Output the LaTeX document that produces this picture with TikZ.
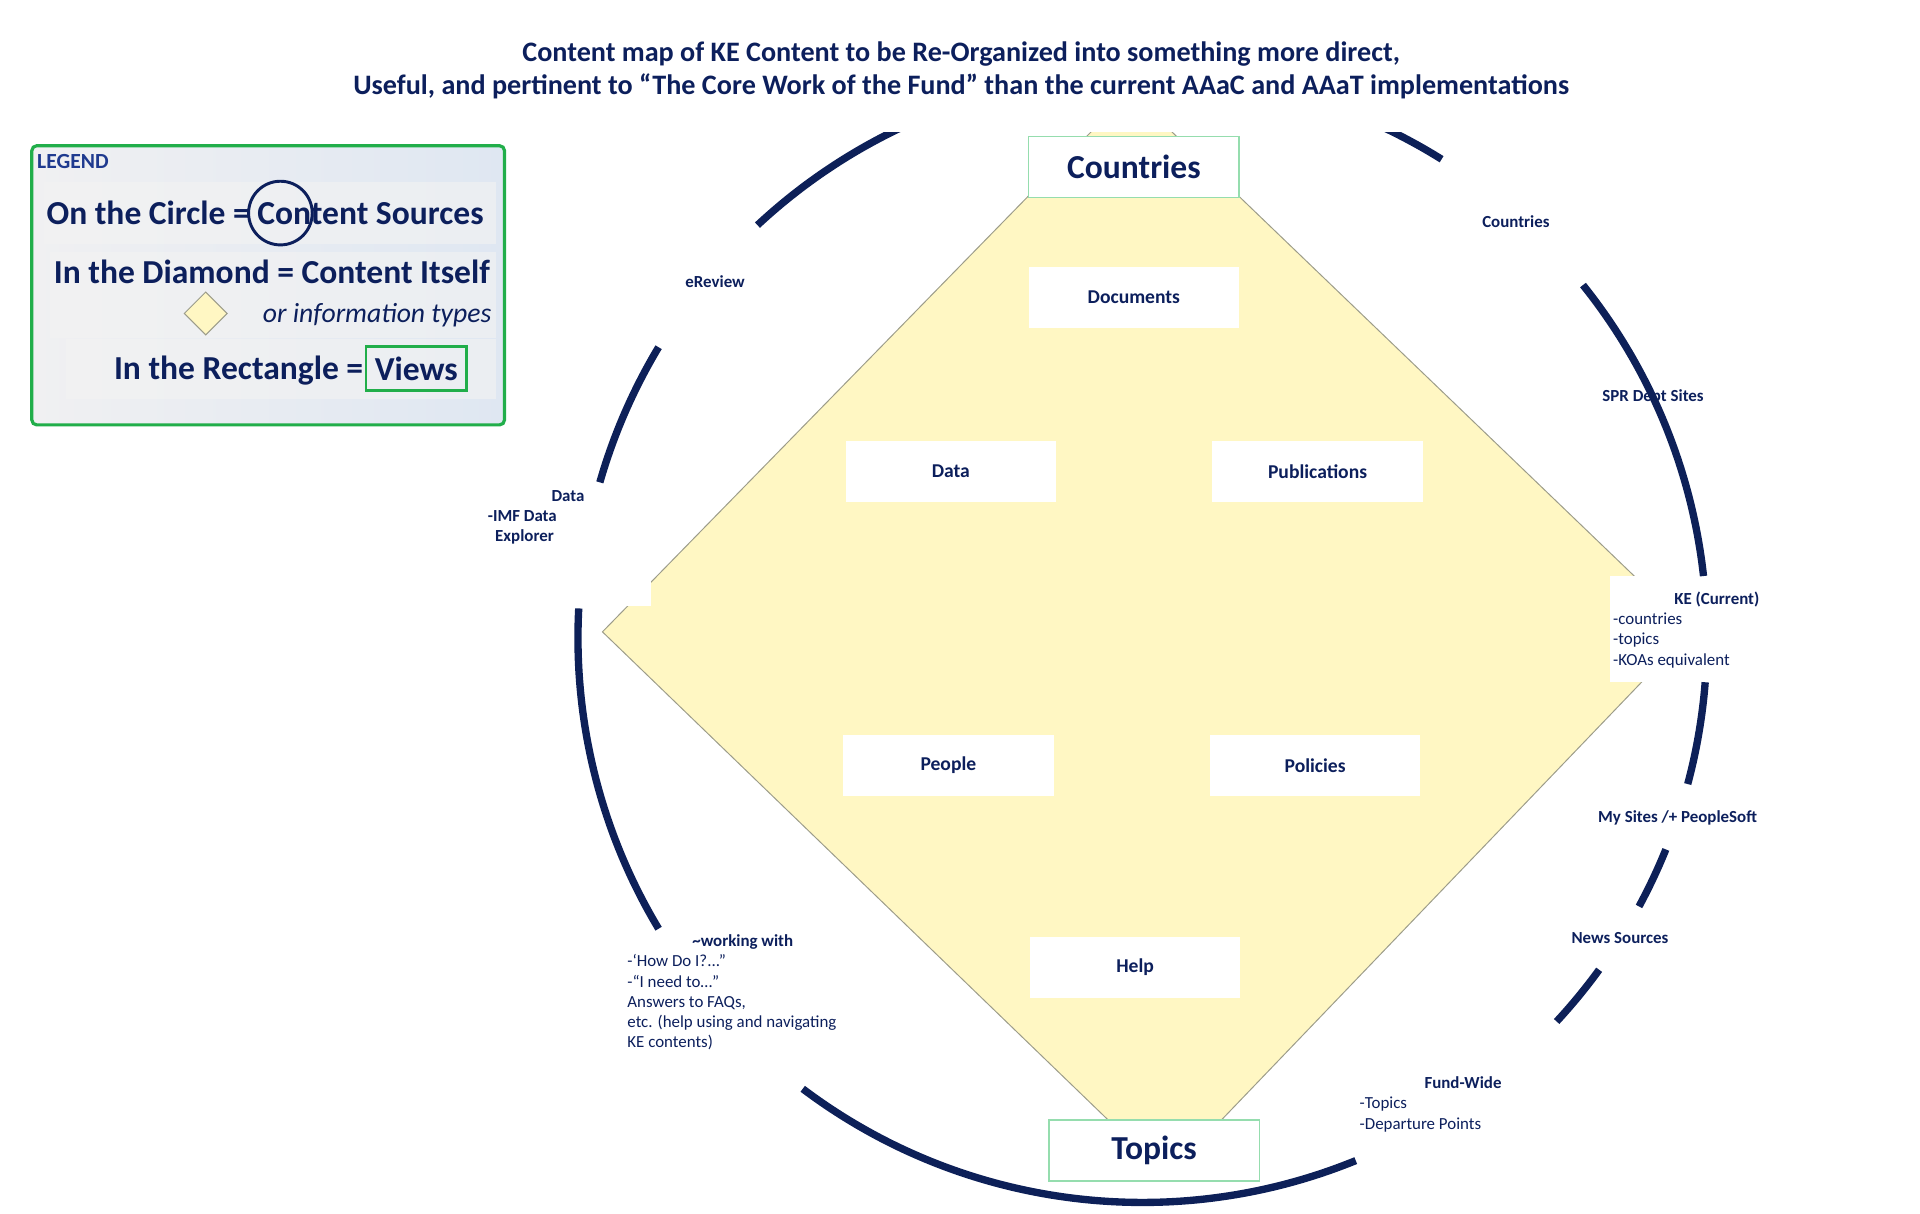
\documentclass[tikz,border=0pt]{standalone}
\usepackage{fontspec}
\setmainfont{Carlito}
\definecolor{navy}{HTML}{0C1F5C}
\definecolor{ringblue}{HTML}{0D2058}
\definecolor{legblue}{HTML}{1F3A8F}
\definecolor{leggreen}{HTML}{21AE4A}
\definecolor{palegreen}{HTML}{95DDAE}
\definecolor{diafill}{HTML}{FFF7C3}
\definecolor{diaedge}{HTML}{9C9C8A}
\definecolor{legleft}{HTML}{F0F0F2}
\definecolor{legright}{HTML}{DFE7F2}
\definecolor{legpanel}{HTML}{F3F3F3}
\begin{document}
\begin{tikzpicture}[x=0.5pt,y=-0.5pt,
    every node/.style={text=navy},
    view/.style={fill=white,minimum width=86pt,minimum height=25pt,inner sep=0pt,
      font=\bfseries\fontsize{8}{9.6}\selectfont},
    mainview/.style={view,draw=palegreen,line width=0.6pt,
      font=\bfseries\fontsize{13.7}{16}\selectfont},
    src/.style={inner sep=0pt,font=\bfseries\fontsize{6.9}{8.25}\selectfont},
    srclist/.style={inner sep=0pt,align=left,anchor=north west,
      font=\fontsize{6.9}{8.25}\selectfont},
    ring/.style={draw=ringblue,line width=3pt},
    legline/.style={inner sep=0pt,anchor=base,
      font=\bfseries\fontsize{13.7}{16}\selectfont}]

  \useasboundingbox (0,0) rectangle (1568,991);

  % the content diamond
  \coordinate (top) at (923,75);
  \coordinate (rgt) at (1381,515);
  \coordinate (bot) at (953,961);
  \coordinate (lft) at (492,516);
  \filldraw[fill=diafill,draw=diaedge,line width=0.4pt]
    (top) -- (rgt) -- (bot) -- (lft) -- cycle;
  \fill[white] (385,395) rectangle (532,495);
  \fill[white] (1315,470) rectangle (1445,557);

  % views
  \node[mainview] (countries) at (926,136.5) {Countries};
  \node[mainview] (topics) at (942.5,939.5) {Topics};
  \node[view] (docs) at (926,243) {Documents};
  \node[view] (data) at (776.5,385) {Data};
  \node[view] (pubs) at (1076,385) {Publications};
  \node[view] (people) at (774.5,625) {People};
  \node[view] (policies) at (1074,625) {Policies};
  \node[view] (help) at (927,790) {Help};

  % content sources
  \node[src] (srcCountries) at (1238,181) {Countries};
  \node[src] (srcReview) at (584,230) {eReview};
  \node[src] (srcSPR) at (1350,324) {SPR Dept Sites};
  \node[src] (srcMySites) at (1370,668) {My Sites /+ PeopleSoft};
  \node[src] (srcNews) at (1323,766) {News Sources};
  \node[srclist,font=\bfseries\fontsize{6.9}{8.25}\selectfont] (srcData) at (398,400)
    {\hspace*{26pt}Data\\-IMF Data\\\hspace*{3pt}Explorer};
  \node[srclist] (srcKE) at (1317,483)
    {\hspace*{25pt}\textbf{KE (Current)}\\-countries\\-topics\\-KOAs equivalent};
  \node[srclist] (srcFund) at (1110,879)
    {\hspace*{26.5pt}\textbf{Fund-Wide}\\-Topics\\-Departure Points};
  \node[srclist] (srcHelp) at (512,763)
    {\hspace*{26.5pt}\textbf{\textasciitilde working with}\\-‘How Do I?...”\\-“I need to…”\\Answers to FAQs,\\etc. (help using and navigating\\KE contents)};

  % legend
  \draw[draw=leggreen,line width=1.3pt,rounded corners=2pt,left color=legleft,right color=legright]
    (26,119) rectangle (412,347);
  \fill[legpanel,opacity=0.6] (36,149) rectangle (405,199);
  \fill[legpanel,opacity=0.6] (41,206) rectangle (405,276);
  \fill[legpanel,opacity=0.6] (54,277) rectangle (405,326);
  \node[inner sep=0pt,anchor=base west,text=legblue,font=\bfseries\fontsize{8.8}{10}\selectfont]
    (legTitle) at (30,137.5) {LEGEND};
  \node[legline] (legCircleText) at (216.5,183) {On the Circle = Content Sources};
  \node[draw=navy,line width=1.2pt,circle,minimum size=26pt,inner sep=0pt] (legCircle) at (229,174) {};
  \node[legline] (legDiamondText) at (222,231.5) {In the Diamond = Content Itself};
  \filldraw[fill=diafill,draw=diaedge,line width=0.4pt]
    (168,238.5) -- (185.5,256) -- (168,273.5) -- (150.5,256) -- cycle;
  \node[inner sep=0pt,anchor=base,font=\itshape\fontsize{11.3}{13}\selectfont]
    (legTypes) at (308,263) {or information types};
  \node[legline,anchor=base east] (legRectText) at (297,310) {In the Rectangle =};
  \node[draw=leggreen,line width=1pt,minimum width=41pt,minimum height=18pt,inner sep=0pt,
    font=\bfseries\fontsize{13.7}{16}\selectfont] (legViews) at (340,301) {Views};

  % the ring of sources
  \coordinate (ringc) at (933,521);
  \foreach \a/\b in {227/250,196/211,149/183,67.8/127,36/42.8,22/28.4,4.5/15,-38.7/-6.3,-70/-58}
    \draw[ring] (ringc) ++(\a:461) arc[start angle=\a,end angle=\b,radius=461];
  \fill[white] (0,0) rectangle (1568,108);

  \node[align=center,font=\bfseries\fontsize{11.5}{13.5}\selectfont] (title) at (785,57.5)
    {Content map of KE Content to be Re-Organized into something more direct,\\
     Useful, and pertinent to “The Core Work of the Fund” than the current AAaC and AAaT implementations};
\end{tikzpicture}
\end{document}
